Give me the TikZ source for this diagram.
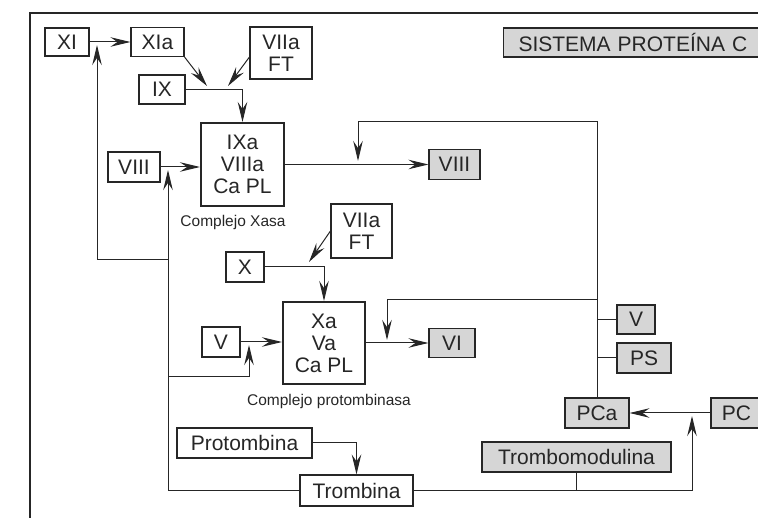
\documentclass[tikz,border=0pt]{standalone}
\usepackage{fontspec}
\setmainfont{Liberation Sans}
\usetikzlibrary{arrows.meta,calc}
\begin{document}
\begin{tikzpicture}[x=1pt,y=-1pt,
  box/.style={draw=black!85, line width=1.1pt, inner sep=0pt, font=\fontsize{21}{22}\selectfont, align=center, text=black!85},
  gbox/.style={box, fill=black!16},
  big/.style={box, line width=2pt},
  lbl/.style={font=\fontsize{15.5}{17}\selectfont, text=black!85},
  con/.style={line width=1pt, draw=black!85},
  arr/.style={con, -{Stealth[length=20pt,width=9.5pt,inset=7pt]}}
]
\useasboundingbox (0,0) rectangle (758,518);
% frame
\draw[line width=1.5pt, black!85] (30,525) -- (30,13) -- (765,13);

% nodes
\node[box, minimum width=44pt, minimum height=28pt] (XI) at (67,42) {XI};
\node[box, minimum width=53pt, minimum height=29pt] (XIa) at (157.5,42) {XIa};
\node[box, minimum width=62pt, minimum height=52pt] (VIIa1) at (281,53) {VIIa\\FT};
\node[box, minimum width=46pt, minimum height=29pt] (IX) at (162,89.5) {IX};
\node[big, minimum width=83pt, minimum height=83pt] (IXa) at (242.5,164.5) {IXa\\VIIIa\\Ca PL};
\node[lbl] (xasa) at (233,222) {Complejo Xasa};
\node[box, minimum width=52pt, minimum height=30pt] (VIIIl) at (134,167) {VIII};
\node[gbox, minimum width=51pt, minimum height=30pt] (VIIIg) at (454.5,164.5) {VIII};
\node[box, minimum width=61pt, minimum height=54pt] (VIIa2) at (361.5,231) {VIIa\\FT};
\node[box, minimum width=38pt, minimum height=30pt] (X) at (245,267) {X};
\node[big, minimum width=82pt, minimum height=82pt] (Xa) at (324,343) {Xa\\Va\\Ca PL};
\node[box, minimum width=38pt, minimum height=30pt] (Vl) at (221,342) {V};
\node[gbox, minimum width=46pt, minimum height=29pt] (VI) at (452,343) {VI};
\node[lbl] (prot) at (329,401) {Complejo protombinasa};
\node[gbox, minimum width=38pt, minimum height=29pt] (Vg) at (636,319.5) {V};
\node[gbox, minimum width=54pt, minimum height=30pt] (PS) at (644,358) {PS};
\node[gbox, minimum width=64pt, minimum height=30pt] (PCa) at (597,413) {PCa};
\node[gbox, minimum width=51pt, minimum height=30pt] (PC) at (736.5,413) {PC};
\node[gbox, anchor=west, minimum width=267pt, minimum height=29pt, text width=257pt, align=left, inner sep=0pt] (title) at (503,42.5) {\hspace*{10pt}SISTEMA PROTEÍNA C};
\node[box, minimum width=135pt, minimum height=30pt] (Protombina) at (244.5,443) {Protombina};
\node[box, minimum width=113pt, minimum height=31pt] (Trombina) at (356.5,490.5) {Trombina};
\node[gbox, minimum width=189pt, minimum height=30pt] (TM) at (576.5,457) {Trombomodulina};

% coordinates
\coordinate (j1) at (97,45);
\coordinate (c97) at (97,260);
\coordinate (c168) at (168,260);
\coordinate (c168b) at (168,377);
\coordinate (c249) at (249,377);
\coordinate (j2) at (249,345);
\coordinate (j3) at (168,170);
\coordinate (c168t) at (168,490.5);
\coordinate (jIX1) at (207,86);
\coordinate (jIX2) at (228,86);
\coordinate (top1) at (597,122);
\coordinate (top2) at (358,122);
\coordinate (j4) at (358,161);
\coordinate (mid1) at (597,300);
\coordinate (mid2) at (387,300);
\coordinate (j5) at (387,340);
\coordinate (b692) at (692,490.5);
\coordinate (j6) at (692,416);
\coordinate (jX) at (309,262);

% connectors
\draw[arr] (XI) -- (XIa);
\draw[arr] (c97) -- (j1);
\draw[con] (c97) -- (c168);
\draw[con] (Trombina.west) -- (c168t);
\draw[arr] (c168t) -- (j3);
\draw[con] (c168b) -- (c249);
\draw[arr] (c249) -- (j2);
\draw[arr] (XIa.south east) -- (jIX1);
\draw[arr] (VIIa1.west |- 0,57) -- (jIX2);
\draw[arr] (IX.east) -| (IXa.north);
\draw[arr] (VIIIl.east) -- (VIIIl.east -| IXa.west);
\draw[arr] (IXa.east) -- (VIIIg.west);
\draw[con] (PCa.north) -- (top1) -- (top2);
\draw[arr] (top2) -- (j4);
\draw[con] (mid1) -- (mid2);
\draw[arr] (mid2) -- (j5);
\draw[con] (Vg.west) -- (Vg.west -| PCa.north);
\draw[con] (PS.west) -- (PS.west -| PCa.north);
\draw[arr] (X.east) -| (Xa.north);
\draw[arr] (VIIa2.west) -- (jX);
\draw[arr] (Vl.east) -- (Vl.east -| Xa.west);
\draw[arr] (Xa.east) -- (VI.west);
\draw[arr] (Protombina.east) -| (Trombina.north);
\draw[con] (Trombina.east) -- (b692);
\draw[arr] (b692) -- (j6);
\draw[con] (TM.south) -- (TM.south |- b692);
\draw[arr] (PC.west) -- (PCa.east);
\end{tikzpicture}
\end{document}
